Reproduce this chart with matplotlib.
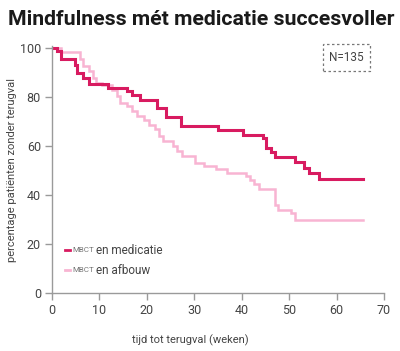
import matplotlib
matplotlib.use("Agg")
import matplotlib.pyplot as plt
from matplotlib.patches import FancyBboxPatch
from matplotlib.lines import Line2D

plt.rcParams['font.family'] = ['Roboto', 'DejaVu Sans']

title = "Mindfulness mét medicatie succesvoller"
xlabel = "tijd tot terugval (weken)"
ylabel = "percentage patiënten zonder terugval"
n_label = "N=135"
series_names = ["en medicatie", "en afbouw"]
abbr = "MBCT"

x_ticks = [0, 10, 20, 30, 40, 50, 60, 70]
y_ticks = [0, 20, 40, 60, 80, 100]

med_t = [0, 1, 2, 4.9, 5.2, 6.5, 7.9, 11.9, 15.8, 16.8, 18.6, 22.1, 24.1, 27.1,
         35.0, 40.3, 44.5, 45.2, 46.1, 47.1, 51.2, 53.1, 54.2, 56.3, 65.5]
med_s = [100, 99, 95.5, 93.4, 90, 88, 85.5, 84, 82.5, 81, 79, 75.7, 72, 68.4,
         66.5, 64.8, 63.4, 59.3, 57.5, 55.5, 53.4, 51.1, 49, 46.7, 46.7]

afb_t = [0, 2, 5.8, 6.6, 7.7, 8.7, 9.3, 10.5, 12.6, 13.7, 14.4, 15.8, 16.8, 17.9,
         19.3, 20.4, 21.8, 22.5, 23.5, 25.6, 26.4, 27.4, 30.2, 32, 34.5, 36.9,
         40.8, 41.7, 42.6, 43.6, 47.1, 47.6, 50.3, 51.2, 65.5]
afb_s = [100, 98.6, 95.5, 93, 90.7, 88, 86, 85, 83.2, 80.5, 77.7, 76.4, 74.3, 72.5,
         70.9, 68.9, 67.1, 64.1, 62, 60, 57.9, 55.9, 53.3, 51.9, 50.7, 49,
         47.7, 46.3, 44.7, 42.4, 36, 34, 32.7, 29.9, 29.9]

dark = "#d81b60"
light = "#f8b4d2"
axis_gray = "#9a9a9a"
text_gray = "#444444"

fig = plt.figure(figsize=(4.0, 3.51), dpi=100)
ax = fig.add_axes([0.13, 0.165, 0.83, 0.704])

ax.step(afb_t, afb_s, where='post', color=light, lw=1.8, solid_joinstyle='miter')
ax.step(med_t, med_s, where='post', color=dark, lw=2.2, solid_joinstyle='miter')

ax.set_xlim(0, 70)
ax.set_ylim(0, 101)
ax.set_xticks(x_ticks)
ax.set_yticks(y_ticks)
for s in ['top', 'right']:
    ax.spines[s].set_visible(False)
for s in ['left', 'bottom']:
    ax.spines[s].set_color(axis_gray)
    ax.spines[s].set_linewidth(1.0)
ax.tick_params(axis='both', colors=axis_gray, length=5, width=1.0,
               labelsize=9, labelcolor=text_gray, pad=3)

fig.text(0.02, 0.945, title, fontsize=15.3, fontweight='bold', color='#1a1a1a',
         ha='left', va='center')
fig.text(0.475, 0.03, xlabel, fontsize=8, color=text_gray, ha='center', va='center')
fig.text(0.03, 0.515, ylabel, fontsize=8, color=text_gray, ha='center', va='center',
         rotation=90)

# N box
box = FancyBboxPatch((0.807, 0.797), 0.118, 0.078, boxstyle='square,pad=0',
                     transform=fig.transFigure, fill=False, edgecolor='#777777',
                     linestyle=(0, (2, 2)), linewidth=0.9)
fig.add_artist(box)
fig.text(0.866, 0.836, n_label, fontsize=8.5, color=text_gray, ha='center', va='center')

# legend
for i, (name, col, lw) in enumerate([(series_names[0], dark, 2.0),
                                      (series_names[1], light, 2.0)]):
    yy = 0.287 - i * 0.057
    fig.add_artist(Line2D([0.162, 0.175], [yy, yy], transform=fig.transFigure,
                          color=col, lw=lw))
    fig.text(0.182, yy, abbr, fontsize=5.8, color='#777777', ha='left', va='center')
    fig.text(0.240, yy, name, fontsize=8.5, color=text_gray, ha='left', va='center')

fig.savefig("out.png", dpi=100)
